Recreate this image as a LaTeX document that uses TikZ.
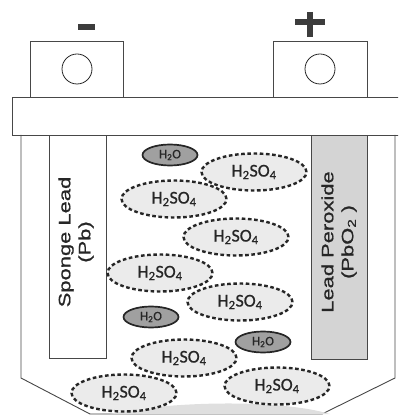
\documentclass[tikz,border=0pt]{standalone}
\usepackage{fontspec}
\setmainfont{Carlito}[RawFeature={embolden=0.8}]
\newfontfamily\platefont{Liberation Sans}[RawFeature={embolden=0.8}]
\usetikzlibrary{shapes.geometric}
\definecolor{ink}{HTML}{262626}
\definecolor{fillacid}{HTML}{EBEBEB}
\definecolor{fillwater}{HTML}{A0A0A0}
\definecolor{fillplate}{HTML}{D4D4D4}
\tikzset{
  wall/.style={draw=ink!85, line width=0.9pt},
  acid/.style={ellipse, draw=ink, fill=fillacid, line width=2.4pt, dash pattern=on 3.6pt off 2.6pt,
    minimum width=105pt, minimum height=37pt, inner sep=0pt, text=ink,
    font=\fontsize{18}{20}\selectfont},
  water/.style={ellipse, draw=ink, fill=fillwater, line width=1.7pt,
    minimum width=55pt, minimum height=21pt, inner sep=0pt, text=ink,
    font=\fontsize{13}{14}\selectfont},
  platelabel/.style={rotate=90, align=center, text=ink,
    font=\platefont\fontsize{16.5}{20}\selectfont},
  sign/.style={draw=ink!90, line width=5.5pt}
}
\newcommand{\stretchtxt}[1]{\scalebox{1.33}[1]{#1}}
\begin{document}
\begin{tikzpicture}[x=1pt,y=-1pt]
\useasboundingbox (0,0) rectangle (398,419);
\clip (0,0) rectangle (398,419);
% terminals
\draw[wall] (30,97) rectangle (123,41);
\draw[wall] (273,97) rectangle (367,41);
\node[circle, draw=ink, line width=0.8pt, minimum size=30pt, inner sep=0pt] (negpost) at (77,69) {};
\node[circle, draw=ink, line width=0.8pt, minimum size=30pt, inner sep=0pt] (pospost) at (320,69) {};
\coordinate (m1) at (78,27); \coordinate (m2) at (95,27);
\draw[sign] (m1) -- (m2);
\coordinate (p1) at (295,22); \coordinate (p2) at (325,22);
\coordinate (p3) at (310,12); \coordinate (p4) at (310,37);
\draw[sign] (p1) -- (p2);
\draw[sign] (p3) -- (p4);
% lid
\draw[wall] (12,97) rectangle (404,135);
% body
\draw[wall] (21,135) -- (21,378) -- (90,414) -- (322,414) -- (395,378) -- (395,135);
% shadow
\fill[gray!25] (110,414) .. controls (170,401) and (280,399) .. (330,414) -- cycle;
% plates
\draw[wall, fill=white] (49,135) rectangle (106,358);
\draw[wall, fill=fillplate] (311,135) rectangle (367,359);
\node[platelabel] (sponge) at (76,242) {\stretchtxt{Sponge Lead}\\\stretchtxt{(Pb)}};
\node[platelabel] (perox) at (339,242) {\stretchtxt{Lead Peroxide}\\\stretchtxt{(PbO\textsubscript{2} )}};
% molecules
\node[water] (w1) at (170,155) {H\textsubscript{2}O};
\node[acid] (a1) at (254,172) {H\textsubscript{2}SO\textsubscript{4}};
\node[acid] (a2) at (174,199) {H\textsubscript{2}SO\textsubscript{4}};
\node[acid] (a3) at (236,237) {H\textsubscript{2}SO\textsubscript{4}};
\node[acid] (a4) at (160,273) {H\textsubscript{2}SO\textsubscript{4}};
\node[acid] (a5) at (240,302) {H\textsubscript{2}SO\textsubscript{4}};
\node[water] (w2) at (151,317) {H\textsubscript{2}O};
\node[water] (w3) at (263,342) {H\textsubscript{2}O};
\node[acid] (a6) at (184,358) {H\textsubscript{2}SO\textsubscript{4}};
\node[acid] (a7) at (277,386) {H\textsubscript{2}SO\textsubscript{4}};
\node[acid] (a8) at (124,393) {H\textsubscript{2}SO\textsubscript{4}};
\end{tikzpicture}
\end{document}
